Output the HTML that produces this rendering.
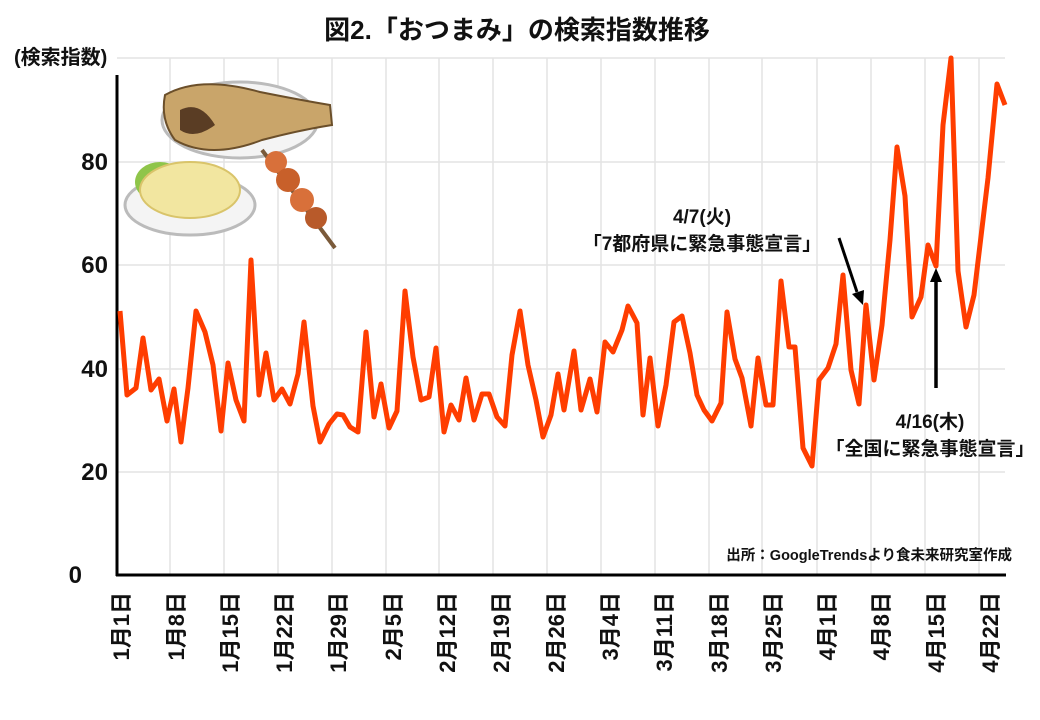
<!DOCTYPE html>
<html><head><meta charset="utf-8"><style>
body{margin:0;background:#fff;}
svg{display:block;font-family:"Liberation Sans","Noto Sans CJK JP",sans-serif;font-weight:bold;}
</style></head><body>
<svg width="1040" height="720" viewBox="0 0 1040 720" xmlns="http://www.w3.org/2000/svg">
<rect width="1040" height="720" fill="#fff"/>
<g stroke="#e3e3e3" stroke-width="1.5">
<line x1="117" y1="58" x2="1005" y2="58"/><line x1="117" y1="162" x2="1005" y2="162"/><line x1="117" y1="265" x2="1005" y2="265"/><line x1="117" y1="369" x2="1005" y2="369"/><line x1="117" y1="472" x2="1005" y2="472"/>
<line x1="170" y1="58" x2="170" y2="575"/><line x1="224" y1="58" x2="224" y2="575"/><line x1="278" y1="58" x2="278" y2="575"/><line x1="332" y1="58" x2="332" y2="575"/><line x1="386" y1="58" x2="386" y2="575"/><line x1="439" y1="58" x2="439" y2="575"/><line x1="493" y1="58" x2="493" y2="575"/><line x1="547" y1="58" x2="547" y2="575"/><line x1="601" y1="58" x2="601" y2="575"/><line x1="655" y1="58" x2="655" y2="575"/><line x1="709" y1="58" x2="709" y2="575"/><line x1="762" y1="58" x2="762" y2="575"/><line x1="817" y1="58" x2="817" y2="575"/><line x1="871" y1="58" x2="871" y2="575"/><line x1="925" y1="58" x2="925" y2="575"/><line x1="979" y1="58" x2="979" y2="575"/>
</g>
<g>
<ellipse cx="240" cy="120" rx="78" ry="38" fill="#f4f4f4" stroke="#bbb" stroke-width="3"/>
<path d="M165 95 Q200 75 260 92 Q300 100 330 105 L332 125 Q300 130 262 140 Q210 160 175 140 Q160 120 165 95Z" fill="#c9a56a" stroke="#6b4f2a" stroke-width="2"/>
<path d="M180 110 Q200 100 215 125 Q195 140 180 130Z" fill="#5a3d24"/>
<ellipse cx="190" cy="205" rx="65" ry="30" fill="#f4f4f4" stroke="#bbb" stroke-width="3"/>
<ellipse cx="160" cy="182" rx="25" ry="20" fill="#8fc54a"/>
<ellipse cx="190" cy="190" rx="50" ry="28" fill="#f2e6a0" stroke="#d9c46a" stroke-width="2"/>
<line x1="262" y1="150" x2="335" y2="248" stroke="#7a5a3a" stroke-width="4"/>
<circle cx="276" cy="162" r="11" fill="#d8703a"/><circle cx="288" cy="180" r="12" fill="#c8602a"/><circle cx="302" cy="200" r="12" fill="#d8703a"/><circle cx="316" cy="218" r="11" fill="#b85a2a"/>
</g>
<line x1="117" y1="75" x2="117" y2="576" stroke="#000" stroke-width="3"/>
<line x1="116" y1="575" x2="1006" y2="575" stroke="#000" stroke-width="3"/>
<polyline fill="none" stroke="#ff3d00" stroke-width="5" stroke-linejoin="round" points="120,311 127,395 136,388 143,338 151,390 159,379 167,421 174,389 181,442 188,388 196,311 205,332 213,365 221,431 228,363 236,400 244,421 251,260 259,395 266,353 274,400 282,389 290,404 298,374 304,322 313,406 320,442 329,424 337,414 343,415 350,427 358,432 366,332 374,417 381,384 389,428 397,411 405,291 413,357 421,400 429,397 436,348 444,432 451,405 459,420 466,378 474,420 482,394 489,394 497,417 505,426 512,355 520,311 528,365 536,400 543,437 551,415 558,374 564,410 574,351 581,410 590,379 597,412 605,342 613,352 622,330 628,306 637,323 643,415 650,358 658,426 666,385 674,322 682,316 690,353 697,395 704,410 712,421 721,403 727,312 735,359 742,378 751,426 758,358 766,405 773,405 781,281 789,347 795,347 803,448 812,466 819,380 828,368 836,344 843,275 851,370 859,404 866,305 874,380 882,325 890,240 897,147 905,196 912,317 921,297 928,245 936,266 943,125 951,58 958,271 966,327 974,295 988,178 997,84 1005,105"/>
<g font-size="24" text-anchor="end" fill="#111">
<text x="108" y="170">80</text><text x="108" y="273">60</text><text x="108" y="377">40</text><text x="108" y="480">20</text><text x="82" y="583">0</text>
</g>
<text x="517" y="39" font-size="26" text-anchor="middle" fill="#111">図2.「おつまみ」の検索指数推移</text>
<text x="14" y="64" font-size="20" fill="#111">(検索指数)</text>
<text x="702" y="223" font-size="19" text-anchor="middle" fill="#111">4/7(火)</text>
<text x="702" y="250" font-size="19" text-anchor="middle" fill="#111">「7都府県に緊急事態宣言」</text>
<text x="930" y="428" font-size="19" text-anchor="middle" fill="#111">4/16(木)</text>
<text x="930" y="455" font-size="19" text-anchor="middle" fill="#111">「全国に緊急事態宣言」</text>
<text x="1012" y="560" font-size="14.5" text-anchor="end" fill="#111">出所：GoogleTrendsより食未来研究室作成</text>
<line x1="839" y1="238" x2="857" y2="292" stroke="#000" stroke-width="3"/>
<polygon points="852,294 863,305 864,290" fill="#000"/>
<line x1="936" y1="388" x2="936" y2="280" stroke="#000" stroke-width="3.5"/>
<polygon points="930,282 936,268 942,282" fill="#000"/>
<g font-size="22" fill="#111" text-anchor="end">
<text transform="translate(129,592) rotate(-90)">1月1日</text>
<text transform="translate(184,592) rotate(-90)">1月8日</text>
<text transform="translate(238,592) rotate(-90)">1月15日</text>
<text transform="translate(292,592) rotate(-90)">1月22日</text>
<text transform="translate(346,592) rotate(-90)">1月29日</text>
<text transform="translate(401,592) rotate(-90)">2月5日</text>
<text transform="translate(455,592) rotate(-90)">2月12日</text>
<text transform="translate(509,592) rotate(-90)">2月19日</text>
<text transform="translate(564,592) rotate(-90)">2月26日</text>
<text transform="translate(618,592) rotate(-90)">3月4日</text>
<text transform="translate(672,592) rotate(-90)">3月11日</text>
<text transform="translate(727,592) rotate(-90)">3月18日</text>
<text transform="translate(781,592) rotate(-90)">3月25日</text>
<text transform="translate(835,592) rotate(-90)">4月1日</text>
<text transform="translate(889,592) rotate(-90)">4月8日</text>
<text transform="translate(944,592) rotate(-90)">4月15日</text>
<text transform="translate(998,592) rotate(-90)">4月22日</text>
</g>
</svg>
</body></html>
